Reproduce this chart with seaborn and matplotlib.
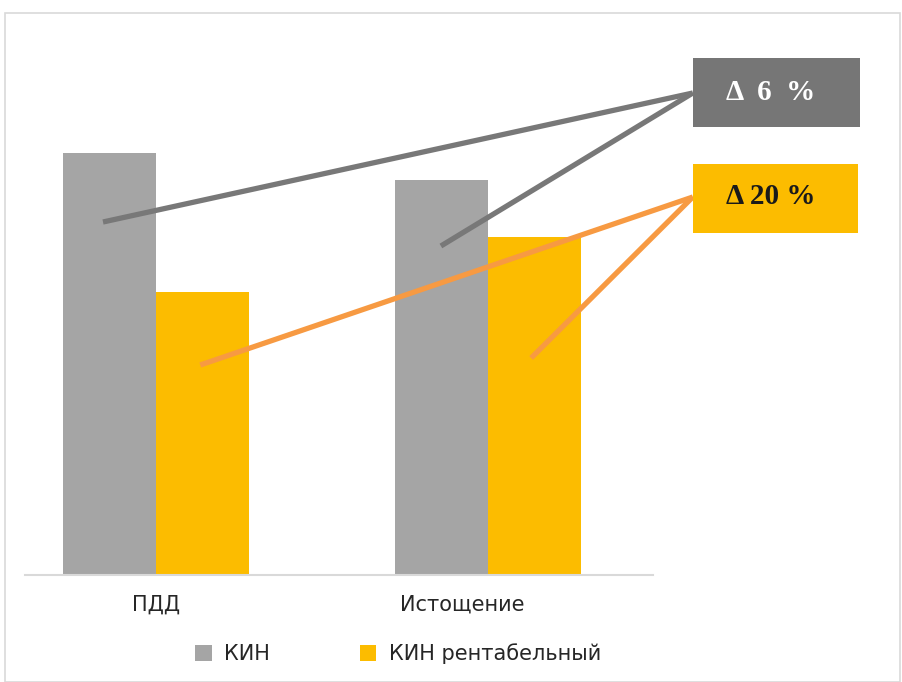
import pandas as pd
import matplotlib.pyplot as plt
import matplotlib.transforms as mtransforms
import seaborn as sns
from matplotlib.patches import Rectangle

# Values (bar heights, arbitrary units)
categories = ["ПДД", "Истощение"]
kin = [42.2, 39.5]
kin_rent = [28.3, 33.8]
series_names = ["КИН", "КИН рентабельный"]
delta_labels = ["Δ  6  %", "Δ 20 %"]

df = pd.DataFrame({
    "cat": categories * 2,
    "val": kin + kin_rent,
    "series": [series_names[0]] * 2 + [series_names[1]] * 2,
})

sns.set_theme(style="white")
plt.rcParams['font.family'] = ['DejaVu Sans']

fig = plt.figure(figsize=(9.02, 6.82), dpi=100)
ax = fig.add_axes([25 / 902, 107 / 682, 628 / 902, 450 / 682])

sns.barplot(data=df, x="cat", y="val", hue="series", ax=ax, width=0.56,
            palette=["#A5A5A5", "#FCBC00"], saturation=1, edgecolor="none")

ax.set_xlim(-0.395, 1.497)
ax.set_ylim(0, 45)
ax.set_xlabel("")
ax.set_ylabel("")
ax.set_yticks([])
for s in ["top", "right", "left"]:
    ax.spines[s].set_visible(False)
ax.spines["bottom"].set_color("#D9D9D9")
ax.spines["bottom"].set_linewidth(1.5)
ax.tick_params(axis="x", length=0, pad=14, labelsize=15, labelcolor="#262626")
# second category label sits a little left of its group in the original
lbl = ax.get_xticklabels()[1]
lbl.set_transform(lbl.get_transform() +
                  mtransforms.ScaledTranslation(-0.26, 0, fig.dpi_scale_trans))

# connector lines: from inside the bars to the delta boxes
box_x = 1.617
grey_end = 48.2
orange_end = 37.8
for x0, y0 in [(-0.16, 35.3), (0.858, 32.9)]:
    ax.plot([x0, box_x], [y0, grey_end], color="#787878", lw=3.8,
            clip_on=False, solid_capstyle="butt", zorder=3)
for x0, y0 in [(0.133, 21.0), (1.13, 21.7)]:
    ax.plot([x0, box_x], [y0, orange_end], color="#F79A42", lw=3.8,
            clip_on=False, solid_capstyle="butt", zorder=3)

# delta boxes
ax.add_patch(Rectangle((box_x, 44.8), 0.503, 6.9, facecolor="#767676",
                       edgecolor="none", clip_on=False, zorder=4))
ax.add_patch(Rectangle((box_x, 34.2), 0.497, 6.9, facecolor="#FCBC00",
                       edgecolor="none", clip_on=False, zorder=4))
ax.text(1.852, 48.2, delta_labels[0], color="white", fontsize=21,
        fontweight="bold", family=["Liberation Serif", "DejaVu Serif"],
        ha="center", va="center", clip_on=False, zorder=5)
ax.text(1.852, 37.8, delta_labels[1], color="#1a1a1a", fontsize=21,
        fontweight="bold", family=["Liberation Serif", "DejaVu Serif"],
        ha="center", va="center", clip_on=False, zorder=5)

# legend below
ax.legend(loc="upper center", bbox_to_anchor=((398 - 25) / 628, -0.11), ncol=2,
          frameon=False, fontsize=15, handlelength=0.8, handleheight=0.8,
          columnspacing=4.3, handletextpad=0.6, labelcolor="#262626")

# light outer frame
fig.patches.append(Rectangle((5 / 902, 0), 895 / 902, 669 / 682,
                             transform=fig.transFigure, fill=False,
                             edgecolor="#D9D9D9", lw=1.2))

plt.savefig("out.png", dpi=100)
